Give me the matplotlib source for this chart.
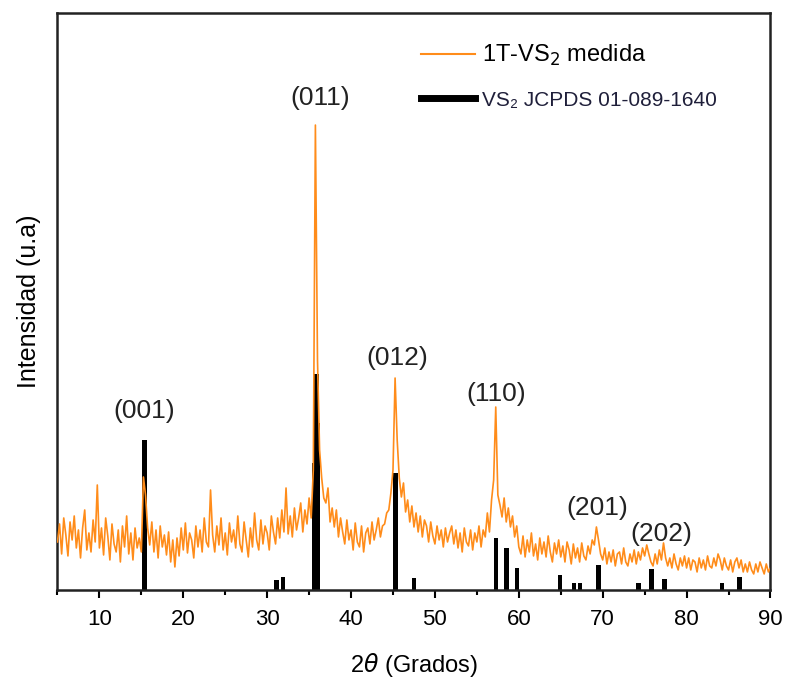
import numpy as np
import matplotlib
matplotlib.use("Agg")
import matplotlib.pyplot as plt
from matplotlib.lines import Line2D

plt.rcParams['font.family'] = ['Liberation Sans', 'DejaVu Sans']

# medida (u.a.), 2theta de 5 a 90 cada 0.25
two_theta = np.arange(5, 90.001, 0.25)
intensity = [
    48, 66, 36, 72,   55, 34, 68, 50,   74, 42, 60, 32,   62, 80, 40, 57,
    38, 70, 48, 105,  42, 62, 35, 72,   54, 30, 66, 46,   38, 60, 28, 64,
    43, 74, 36, 57,   30, 62, 42, 52,   38, 113, 95, 62,  45, 68, 38, 60,
    32, 64, 43, 55,   35, 58, 28, 50,   23, 52, 34, 62,   40, 67, 37, 57,
    50, 32, 64, 43,   60, 38, 72, 48,   43, 100, 55, 38,  64, 45, 72, 40,
    57, 35, 67, 48,   60, 42, 74, 46,   38, 68, 50, 33,   62, 43, 77, 50,
    40, 70, 46, 64,   57, 40, 74, 58,   46, 72, 52, 80,   58, 102, 56, 74,
    53, 82, 60, 72,   87, 58, 80, 66,   92, 72, 120, 465, 230, 140, 112, 92,
    87, 102, 68, 82,  63, 80, 53, 72,   58, 46, 70, 50,   60, 40, 67, 48,
    43, 64, 38, 57,   62, 46, 68, 50,   60, 72, 53, 64,   66, 77, 80, 97,
    120, 212, 150, 112, 93, 107, 78, 90, 68, 84, 63, 77,  58, 74, 53, 70,
    64, 48, 68, 54,   46, 64, 50, 60,   43, 62, 48, 57,   64, 46, 60, 42,
    57, 38, 62, 48,   44, 60, 40, 57,   48, 64, 43, 60,   53, 77, 58, 90,
    110, 183, 95, 85, 73, 92, 68, 82,   63, 74, 53, 64,   43, 36, 54, 33,
    50, 38, 57, 34,   46, 30, 52, 36,   48, 33, 54, 38,   28, 47, 36, 50,
    33, 44, 28, 48,   40, 26, 46, 32,   42, 28, 47, 34,   30, 44, 36, 50,
    45, 63, 50, 36,   30, 42, 26, 38,   28, 40, 24, 36,   38, 26, 42, 28,
    24, 36, 28, 40,   26, 38, 30, 42,   34, 45, 36, 28,   24, 36, 26, 40,
    30, 47, 32, 24,   32, 22, 36, 26,   20, 32, 24, 34,   22, 32, 20, 30,
    28, 18, 32, 22,   30, 20, 34, 24,   22, 32, 24, 36,   30, 20, 32, 24,
    20, 30, 18, 28,   32, 22, 30, 18,   26, 18, 28, 20,   16, 26, 18, 28,
    22, 16, 26, 18,   22,
]

# patron JCPDS
ref_pos = [15.4, 31.1, 31.9, 35.6, 35.85, 36.05, 45.3, 47.5, 57.3, 58.5,
           59.8, 64.9, 66.6, 67.3, 69.5, 74.3, 75.8, 77.4, 84.2, 86.3]
ref_int = [150, 10, 13, 127, 216, 167, 117, 12, 52, 42,
           22, 15, 7, 7, 25, 7, 21, 11, 7, 13]

# indices de Miller
hkl = ['(001)', '(011)', '(012)', '(110)', '(201)', '(202)']
hkl_x = [15.3, 36.3, 45.5, 57.3, 69.4, 77.0]
hkl_y = [167, 480, 220, 184, 70, 44]

fig = plt.figure(figsize=(7.87, 6.90), dpi=100)
ax = fig.add_axes([0.073, 0.145, 0.906, 0.836])

ax.bar(ref_pos, ref_int, width=0.55, color='black', zorder=2)
ax.plot(two_theta, intensity, color='#ff8c1a', lw=1.2, zorder=3)

for lab, xx, yy in zip(hkl, hkl_x, hkl_y):
    ax.text(xx, yy, lab, ha='center', va='bottom', fontsize=19, color='#222222')

ax.set_xlim(5, 90)
ax.set_ylim(0, 577)
ax.set_yticks([])
ax.set_xticks(range(10, 91, 10))
ax.set_xticks(range(5, 91, 5), minor=True)
ax.tick_params(axis='x', which='major', direction='out', length=6, width=1.5,
               labelsize=16, pad=8)
ax.tick_params(axis='x', which='minor', direction='out', length=3.5, width=1.5)
for s in ax.spines.values():
    s.set_linewidth(1.8)
    s.set_color('#222222')

ax.set_xlabel(r'2$\theta$ (Grados)', fontsize=17, labelpad=15)
ax.set_ylabel('Intensidad (u.a)', fontsize=18, labelpad=12)

handles = [Line2D([], [], color='#ff8c1a', lw=1.5),
           Line2D([], [], color='black', lw=5)]
labels = ['1T-VS$_2$ medida', 'VS\u2082 JCPDS 01-089-1640']
leg = ax.legend(handles, labels, loc='upper left', bbox_to_anchor=(0.48, 0.985),
                frameon=False, fontsize=17, handlelength=2.3, handletextpad=0.3,
                labelspacing=0.9)
leg.get_texts()[1].set_fontsize(15)
leg.get_texts()[1].set_color('#1f1f3a')

fig.savefig('out.png', dpi=100)
